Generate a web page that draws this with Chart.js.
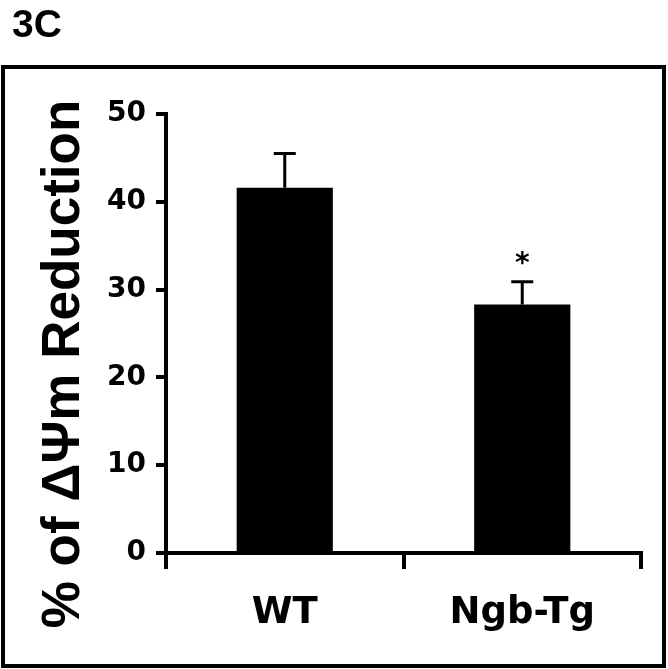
<!DOCTYPE html>
<html>
<head>
<meta charset="utf-8">
<script src="https://cdn.jsdelivr.net/npm/chart.js@4"></script>
<style>body{margin:0;background:#fff}canvas{display:block}</style>
</head>
<body>
<canvas id="reduction-chart" width="668" height="669"></canvas>
<script>
const labels = ["WT", "Ngb-Tg"]
const means = [41.6, 28.3]
const errors = [3.9, 2.6]
const marks = ["", "*"]
const yTicks = [0, 10, 20, 30, 40, 50]
const yTitle = "% of ΔΨm Reduction"

const ctx = document.getElementById("reduction-chart").getContext("2d")

// white background, panel frame, "3C" label and the y title
const panelFrame = {
    id: "panelFrame",
    beforeDraw(chart) {
        const c = chart.ctx
        c.save()
        c.fillStyle = "#fff"
        c.fillRect(0, 0, chart.width, chart.height)
        c.strokeStyle = "#000"
        c.lineWidth = 4
        c.strokeRect(3, 67, 661, 599)
        c.fillStyle = "#000"
        c.font = "bold 39px 'Liberation Sans', Arial, sans-serif"
        c.textBaseline = "alphabetic"
        c.fillText("3C", 12, 37)

        c.font = "bold 53px 'Liberation Sans', Arial, sans-serif"
        c.textAlign = "center"
        c.translate(79, 364)
        c.rotate(-Math.PI / 2)
        c.fillText(yTitle, 0, 0)
        c.restore()
    }
}

// error bars (upper only) and significance mark
const errorBars = {
    id: "errorBars",
    afterDatasetsDraw(chart) {
        const { ctx, scales: { x, y } } = chart
        ctx.save()
        ctx.strokeStyle = "#000"
        ctx.fillStyle = "#000"
        ctx.lineWidth = 3
        means.forEach((m, i) => {
            const cx = x.getPixelForValue(i)
            const top = y.getPixelForValue(m + errors[i])
            const base = y.getPixelForValue(m)
            ctx.beginPath()
            ctx.moveTo(cx, base)
            ctx.lineTo(cx, top)
            ctx.moveTo(cx - 11, top)
            ctx.lineTo(cx + 11, top)
            ctx.stroke()
            if (marks[i]) {
                ctx.font = "bold 28px 'DejaVu Sans'"
                ctx.textAlign = "center"
                ctx.textBaseline = "alphabetic"
                ctx.fillText(marks[i], cx, top - 10)
            }
        })
        ctx.restore()
    }
}

new Chart(ctx, {
    type: "bar",
    data: {
        labels: labels,
        datasets: [{
            data: means,
            backgroundColor: "#000",
            borderWidth: 0,
            barPercentage: 0.81,
            categoryPercentage: 0.5
        }]
    },
    options: {
        responsive: false,
        animation: false,
        layout: { padding: { top: 114, right: 27, left: 0, bottom: 0 } },
        plugins: {
            legend: { display: false },
            tooltip: { enabled: false }
        },
        scales: {
            x: {
                grid: { drawOnChartArea: false, tickLength: 16, lineWidth: 4, color: "#000" },
                border: { width: 4, color: "#000" },
                ticks: {
                    color: "#000",
                    font: { family: "DejaVu Sans", weight: "bold", size: 37 },
                    padding: 22
                },
                afterFit(scale) { scale.height = 116 }
            },
            y: {
                min: 0,
                max: 50,
                afterBuildTicks(scale) { scale.ticks = yTicks.map(v => ({ value: v })) },
                grid: { drawOnChartArea: false, tickLength: 10, lineWidth: 4, color: "#000" },
                border: { width: 4, color: "#000" },
                ticks: {
                    color: "#000",
                    font: { family: "DejaVu Sans", weight: "bold", size: 28 },
                    padding: 10
                },
                afterFit(scale) { scale.width = 166 }
            }
        }
    },
    plugins: [panelFrame, errorBars]
})
</script>
</body>
</html>
